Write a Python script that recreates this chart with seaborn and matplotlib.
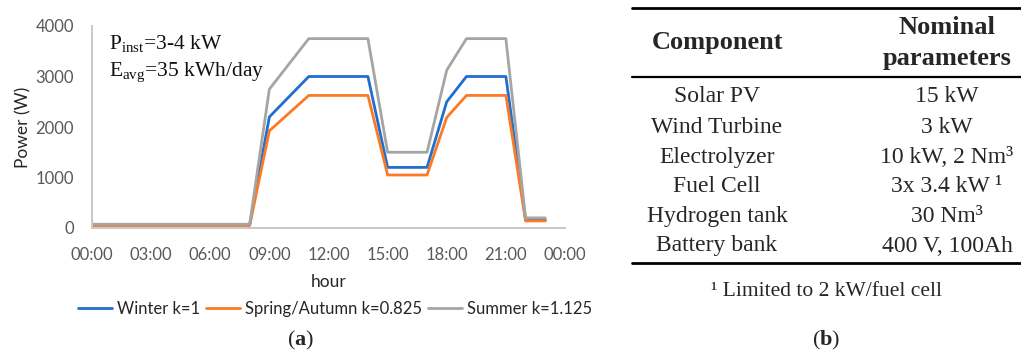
import matplotlib
matplotlib.use("Agg")
import matplotlib.pyplot as plt
from matplotlib.lines import Line2D
import numpy as np
import pandas as pd
import seaborn as sns

# Hourly load profiles (W) for each season
hours = list(range(24))
winter = [60, 60, 60, 60, 60, 60, 60, 60, 60, 2200, 2600, 3000, 3000, 3000, 3000,
          1200, 1200, 1200, 2500, 3000, 3000, 3000, 160, 160]
spring_autumn = [50, 50, 50, 50, 50, 50, 50, 50, 50, 1925, 2275, 2625, 2625, 2625, 2625,
                 1050, 1050, 1050, 2190, 2625, 2625, 2625, 140, 140]
summer = [75, 75, 75, 75, 75, 75, 75, 75, 75, 2750, 3250, 3750, 3750, 3750, 3750,
          1500, 1500, 1500, 3125, 3750, 3750, 3750, 200, 200]
series_names = ["Winter k=1", "Spring/Autumn k=0.825", "Summer k=1.125"]
series_colors = ["#1f6fce", "#fb7a26", "#a5a5a5"]

x_ticks = [0, 3, 6, 9, 12, 15, 18, 21, 24]
x_ticklabels = ["00:00", "03:00", "06:00", "09:00", "12:00", "15:00", "18:00", "21:00", "00:00"]
y_ticks = [0, 1000, 2000, 3000, 4000]

# Table of nominal parameters
components = ["Solar PV", "Wind Turbine", "Electrolyzer", "Fuel Cell", "Hydrogen tank", "Battery bank"]
parameters = ["15 kW", "3 kW", "10 kW, 2 Nm³", "3x 3.4 kW ¹", "30 Nm³", "400 V, 100Ah"]
footnote = "¹ Limited to 2 kW/fuel cell"

df = pd.DataFrame({
    "hour": hours * 3,
    "power": winter + spring_autumn + summer,
    "series": [series_names[0]] * 24 + [series_names[1]] * 24 + [series_names[2]] * 24,
})

sns.set_theme(style="white")
plt.rcParams["font.family"] = ["Lato", "DejaVu Sans"]
plt.rcParams["mathtext.fontset"] = "custom"
plt.rcParams["mathtext.rm"] = "Liberation Serif"
plt.rcParams["mathtext.it"] = "Liberation Serif:italic"
plt.rcParams["mathtext.bf"] = "Liberation Serif:bold"

W, H = 1021, 354
fig = plt.figure(figsize=(W / 100, H / 100), dpi=100)


def fx(px):
    return px / W


def fy(py):
    return 1 - py / H


ax = fig.add_axes([fx(92), fy(228), fx(565) - fx(92), fy(26) - fy(228)])
sns.lineplot(data=df, x="hour", y="power", hue="series", hue_order=series_names,
             palette=series_colors, linewidth=2.0, ax=ax, legend=False)

ax.set_xlim(0, 24)
ax.set_ylim(0, 4000)
ax.set_xticks(x_ticks)
ax.set_xticklabels(x_ticklabels)
ax.set_yticks(y_ticks)
ax.tick_params(axis="both", length=0, labelsize=12, labelcolor="#595959")
ax.tick_params(axis="x", pad=14)
ax.tick_params(axis="y", pad=13)
for side in ["top", "right"]:
    ax.spines[side].set_visible(False)
for side in ["left", "bottom"]:
    ax.spines[side].set_color("#c8c8c8")
    ax.spines[side].set_linewidth(1.4)
ax.set_ylabel("Power (W)", fontsize=12.5, color="#262626")
ax.set_xlabel("hour", fontsize=12.5, color="#262626")
ax.yaxis.set_label_coords((31 - 92) / 473, 0.5)
ax.xaxis.set_label_coords(0.5, (228 - 274) / 202)

serif = ["Liberation Serif", "DejaVu Serif"]
fig.text(fx(109), fy(43), r"P$_{\mathrm{inst}}$=3-4 kW", family=serif, fontsize=15.5,
         ha="left", va="center", color="#111111")
fig.text(fx(109), fy(72), r"E$_{\mathrm{avg}}$=35 kWh/day", family=serif, fontsize=15.5,
         ha="left", va="center", color="#111111")

handles = [Line2D([], [], color=c, linewidth=2.0) for c in series_colors]
fig.legend(handles, series_names, loc="center", bbox_to_anchor=(fx(335), fy(309)),
           ncol=3, frameon=False, fontsize=12, handlelength=2.0, handletextpad=0.3,
           columnspacing=0.4, labelcolor="#262626", borderpad=0, borderaxespad=0)

fig.text(fx(301), fy(340), r"($\mathbf{a}$)", family=serif, fontsize=16, ha="center", va="center")

# Table with booktabs-style rules
x0, x1 = fx(632), fx(1021)
for py, lw in [(8, 2.0), (77, 1.6), (263, 2.0)]:
    fig.add_artist(Line2D([x0, x1], [fy(py), fy(py)], color="black", linewidth=lw))

col1, col2 = fx(717), fx(947)
head_kw = dict(family=serif, fontsize=19, weight="bold", ha="center", va="center")
fig.text(col1, fy(43), "Component", **head_kw)
fig.text(col2, fy(27), "Nominal", **head_kw)
fig.text(col2, fy(58), "parameters", **head_kw)
row_y = [97, 127, 157, 187, 217, 246]
for name, val, py in zip(components, parameters, row_y):
    fig.text(col1, fy(py), name, family=serif, fontsize=17, ha="center", va="center")
    fig.text(col2, fy(py), val, family=serif, fontsize=17, ha="center", va="center")
fig.text(fx(826), fy(291), footnote, family=serif, fontsize=15.5, ha="center", va="center")
fig.text(fx(826), fy(340), r"($\mathbf{b}$)", family=serif, fontsize=16, ha="center", va="center")

fig.savefig("out.png", dpi=100)
